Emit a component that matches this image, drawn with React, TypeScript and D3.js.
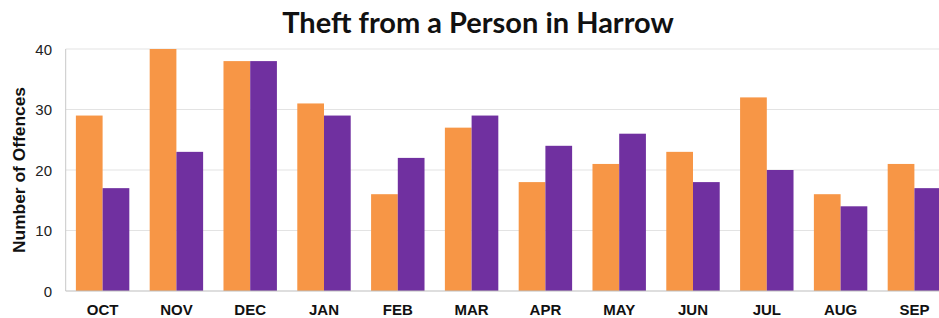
import React from "react";
import * as d3 from "d3";

const months = ["OCT", "NOV", "DEC", "JAN", "FEB", "MAR", "APR", "MAY", "JUN", "JUL", "AUG", "SEP"];
const orangeValues = [29, 40, 38, 31, 16, 27, 18, 21, 23, 32, 16, 21];
const purpleValues = [17, 23, 38, 29, 22, 29, 24, 26, 18, 20, 14, 17];
const yTicks = [0, 10, 20, 30, 40];

const width = 939;
const height = 318;
const left = 65.7;
const top = 49;
const bottom = 291;
const step = 73.8;

export default function App() {
  // the plot runs past the right edge of the picture, so the band range does too
  const x = d3.scaleBand<string>()
    .domain(months)
    .range([left, left + step * months.length])
    .paddingInner(0.276)
    .paddingOuter(0.138);

  const y = d3.scaleLinear().domain([0, 40]).range([bottom, top]);

  const bw = x.bandwidth() / 2;

  return (
    <svg width={width} height={height} style={{ position: "absolute", left: 0, top: 0 }}>
      <rect width={width} height={height} fill="#fff" />
      <text x={478} y={33} textAnchor="middle" fontFamily="Lato" fontWeight="bold" fontSize={29} fill="#111">
        Theft from a Person in Harrow
      </text>

      {yTicks.filter(d => d > 0).map(d => (
        <line key={d} x1={left} x2={width} y1={y(d)} y2={y(d)} stroke="#e3e3e3" strokeWidth={1} />
      ))}

      {months.map((m, i) => (
        <g key={m}>
          <rect x={x(m)} y={y(orangeValues[i])} width={bw} height={bottom - y(orangeValues[i])} fill="#F79646" />
          <rect x={(x(m) as number) + bw} y={y(purpleValues[i])} width={bw} height={bottom - y(purpleValues[i])} fill="#7030A0" />
          <text x={(x(m) as number) + x.bandwidth() / 2} y={315} textAnchor="middle"
            fontFamily="Liberation Sans, Arial" fontWeight="bold" fontSize={15} fill="#111">{m}</text>
        </g>
      ))}

      <line x1={left} x2={left} y1={top} y2={bottom} stroke="#c8c8c8" />
      <line x1={left} x2={width} y1={bottom} y2={bottom} stroke="#bdbdbd" />

      {yTicks.map(d => (
        <text key={d} x={52} y={y(d) + 5.5} textAnchor="end" fontFamily="Liberation Sans, Arial" fontSize={15} fill="#222">{d}</text>
      ))}

      <text transform={`translate(25,170) rotate(-90)`} textAnchor="middle"
        fontFamily="Liberation Sans, Arial" fontWeight="bold" fontSize={16.5} textLength={166}
        lengthAdjust="spacingAndGlyphs" fill="#111">Number of Offences</text>
    </svg>
  );
}
